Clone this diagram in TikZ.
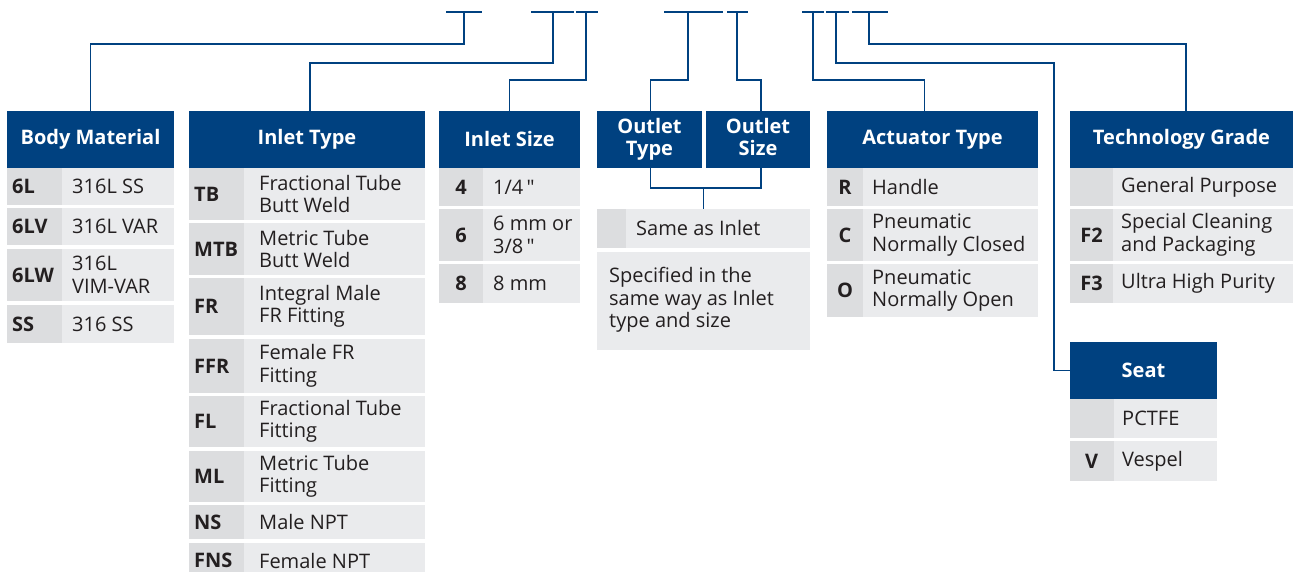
\documentclass[tikz,border=0pt]{standalone}
\usepackage{fontspec}
\setmainfont{Open Sans}
\newfontfamily\nomap{Open Sans}
\definecolor{hdrblue}{RGB}{0,65,128}
\definecolor{cellbg}{RGB}{234,235,237}
\definecolor{codebg}{RGB}{220,221,223}
\definecolor{ink}{RGB}{35,31,32}
\newcommand{\fs}{\fontsize{20}{22.5}\selectfont}
\newcommand{\inch}{\,{\nomap"}}
% one table row: x0, xm, x1, y0, y1, code, text
\newcommand{\tabrow}[7]{%
  \fill[cellbg] (#1,#4) rectangle (#3,#5);
  \fill[codebg] (#1,#4) rectangle (#2,#5);
  \node[codetxt] at (#1,{(#4+#5)/2}) {#6};
  \node[desctxt] at (#2,{(#4+#5)/2}) {#7};
}
\tikzset{
  hdr/.style={fill=hdrblue, text=white, font=\fs\bfseries, minimum height=57pt, inner sep=0pt, align=center},
  link/.style={draw=hdrblue, line width=1.8pt},
  codetxt/.style={font=\fs\bfseries, text=ink, anchor=west, inner sep=0pt, xshift=5pt},
  desctxt/.style={font=\fs, text=ink, anchor=west, inner sep=0pt, align=left, xshift=10pt},
}
\begin{document}
\begin{tikzpicture}[x=1pt,y=-1pt]
	\useasboundingbox (0,0) rectangle (1294,572);
	% headers
	\node[hdr, minimum width=167pt] (body) at (90.5,139.5) {Body Material};
	\node[hdr, minimum width=236pt] (itype) at (307,139.5) {Inlet Type};
	\node[hdr, minimum width=141pt] (isize) at (509.5,139.5) {Inlet Size};
	\node[hdr, minimum width=105pt] (otype) at (649.5,139.5) {Outlet\\[-1pt]Type};
	\node[hdr, minimum width=104pt] (osize) at (758,139.5) {Outlet\\[-1pt]Size\vphantom{y}};
	\node[hdr, minimum width=211pt] (act) at (932.5,139.5) {Actuator Type};
	\node[hdr, minimum width=223pt] (tech) at (1181.5,139.5) {Technology Grade};
	\node[hdr, minimum width=147pt] (seat) at (1143.5,370.5) {Seat};
	% body material
	\tabrow{7}{62}{174}{168}{205}{6L}{316L SS}
	\tabrow{7}{62}{174}{208}{245}{6LV}{316L VAR}
	\tabrow{7}{62}{174}{249}{301}{6LW}{316L\\VIM-VAR}
	\tabrow{7}{62}{174}{305}{343}{SS}{316 SS}
	% inlet type
	\begin{scope}[desctxt/.append style={xshift=5pt}]
		\tabrow{189}{244}{425}{168}{220}{TB}{Fractional Tube\\Butt Weld}
		\tabrow{189}{244}{425}{223}{275}{MTB}{Metric Tube\\Butt Weld}
		\tabrow{189}{244}{425}{278}{335}{FR}{Integral Male\\FR Fitting}
		\tabrow{189}{244}{425}{339}{393}{FFR}{Female FR\\Fitting}
		\tabrow{189}{244}{425}{396}{447}{FL}{Fractional Tube\\Fitting}
		\tabrow{189}{244}{425}{451}{502}{ML}{Metric Tube\\Fitting}
		\tabrow{189}{244}{425}{505}{539}{NS}{Male NPT}
		\tabrow{189}{244}{425}{543}{578}{FNS}{Female NPT}
	\end{scope}
	% inlet size
	\begin{scope}[codetxt/.append style={anchor=center, xshift=17pt}]
		\tabrow{439}{483}{580}{168}{206}{4}{1/4\inch}
		\tabrow{439}{483}{580}{209}{261}{6}{6 mm or\\3/8\inch}
		\tabrow{439}{483}{580}{264}{303}{8}{8 mm}
	\end{scope}
	% outlet
	\tabrow{597}{626}{810}{209}{248}{}{Same as Inlet}
	\coordinate (same) at (703.5,209);
	\fill[cellbg] (597,252) rectangle (810,350);
	\node[desctxt, xshift=-10pt] (spec) at (609,300) {Specified in the\\same way as Inlet\\type and size};
	% actuator type
	\begin{scope}[codetxt/.append style={anchor=center, xshift=13pt}, desctxt/.append style={xshift=-1pt}]
		\tabrow{827}{863}{1038}{168}{206}{R}{Handle}
		\tabrow{827}{863}{1038}{209}{261}{C}{Pneumatic\\Normally Closed}
		\tabrow{827}{863}{1038}{264}{317}{O}{Pneumatic\\Normally Open}
	\end{scope}
	% technology grade and seat
	\begin{scope}[codetxt/.append style={anchor=center, xshift=16.5pt}, desctxt/.append style={xshift=-2pt}]
		\tabrow{1070}{1113}{1293}{168}{206}{}{General Purpose}
		\tabrow{1070}{1113}{1293}{209}{261}{F2}{Special Cleaning\\and Packaging}
		\tabrow{1070}{1113}{1293}{264}{303}{F3}{Ultra High Purity}
		\tabrow{1070}{1114}{1217}{399}{438}{}{PCTFE}
		\tabrow{1070}{1114}{1217}{441}{481}{V}{Vespel}
	\end{scope}
	% code ticks
	\foreach \a/\b in {446/482,531/574,576/598,664/723,727/748,802/824,826/849,852/888}
		\draw[link] (\a,12) -- (\b,12);
	\coordinate (k1) at (464,12);
	\coordinate (k2) at (553,12);
	\coordinate (k3) at (586,12);
	\coordinate (k4) at (688,12);
	\coordinate (k5) at (737,12);
	\coordinate (k6) at (813,12);
	\coordinate (k7) at (836,12);
	\coordinate (k8) at (869,12);
	% connectors
	\draw[link] (k1) -- (464,44) -| (body.north);
	\draw[link] (k2) -- (553,63) -| ([xshift=3pt]itype.north);
	\draw[link] (k3) -- (586,80) -| (isize.north);
	\draw[link] (k4) -- (688,80) -| ([xshift=1pt]otype.north);
	\draw[link] (k5) -- (737,80) -| ([xshift=3pt]osize.north);
	\draw[link] (k6) -- (813,80) -| ([xshift=-8pt]act.north);
	\draw[link] (k7) -- (836,63) -| ([xshift=-16pt]seat.west) -- (seat.west);
	\draw[link] (k8) -- (869,44) -| ([xshift=4.5pt]tech.north);
	\draw[link] ([xshift=1pt]otype.south) |- ([xshift=3pt,yshift=-20pt]osize.south) -- ([xshift=3pt]osize.south);
	\draw[link] (same |- 0,188) -- (same);
\end{tikzpicture}
\end{document}
